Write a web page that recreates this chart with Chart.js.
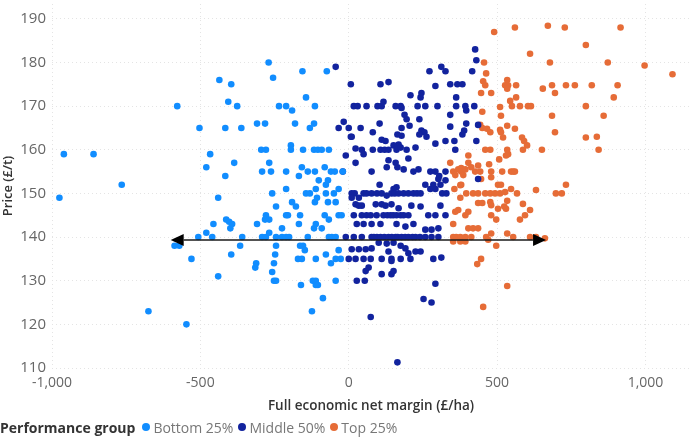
<!DOCTYPE html>
<html>
<head>
<meta charset="utf-8">
<script src="https://cdn.jsdelivr.net/npm/chart.js@4.4.1/dist/chart.umd.min.js"></script>
<style>
  body { margin: 0; background: #fff; font-family: "Open Sans", "Noto Sans", sans-serif; }
  #wrap { position: relative; width: 694px; height: 418px; }
  #legend { position: absolute; left: 0; top: 417px; height: 20px; display: flex; align-items: center;
            font-size: 14px; color: #777; white-space: nowrap; }
  #legend .title { font-weight: 700; color: #333; margin-right: 7px; }
  #legend .item { display: flex; align-items: center; margin-right: 5px; }
  #legend .dot { width: 8px; height: 8px; border-radius: 50%; margin-right: 3px; }
</style>
</head>
<body>
<div id="wrap"><canvas id="chart-canvas" width="694" height="418"></canvas></div>
<div id="legend"></div>
<script>
//------------------------ DATA ----------------------------

const seriesNames = ["Bottom 25%", "Middle 50%", "Top 25%"];
const seriesColors = ["#118DFF", "#12239E", "#E66C37"];
const legendTitle = "Performance group";

const xTicks = [-1000, -500, 0, 500, 1000];
const yTicks = [110, 120, 130, 140, 150, 160, 170, 180, 190];

// Horizontal arrow drawn across the middle of the cloud (from / to / price level)
const arrowFrom = -600;
const arrowTo = 665;
const arrowPrice = 139.3;

// [net margin £/ha, price £/t]
const bottomPoints = [
  [-975,149],[-960,159],[-860,159],[-765,152],[-675,123],[-578,170],[-587,138],[-571,138],[-547,120],[-530,135],
  [-507,140],[-503,165],[-480,156],[-480,141],[-467,159],[-460,140],[-456,143],[-440,149],[-440,131],[-436,176],
  [-416,154],[-416,165],[-413,144],[-406,171],[-403,143.5],[-399,142],[-396,175],[-396,136],[-393,143],[-386,157],
  [-376,170],[-366,138],[-362,165],[-359,140],[-315,133],[-312,134],[-309,166],[-309,143],[-295,160],[-292,155],
  [-292,140],[-282,166],[-282,144],[-270,180],[-279,160],[-279,145],[-279,140],[-268,157],[-268,144],[-268,141],
  [-262,155],[-255,176.5],[-258,150],[-258,132],[-252,134],[-252,130],[-248,136],[-245,147],[-245,140],[-245,138],
  [-245,130],[-235,170],[-225,142],[-225,140],[-211,170],[-211,155],[-211,151],[-211,145],[-211,140],[-205,145],
  [-201,140],[-195,161],[-195,160],[-191,169],[-191,148],[-181,166],[-178,147],[-171,135],[-168,154],[-168,143],
  [-164,145],[-164,138],[-161,129],[-156,178],[-158,156],[-158,135],[-154,160],[-154,138],[-148,137],[-144,172],
  [-144,150],[-138,155],[-138,140],[-131,165],[-131,150],[-124,123],[-121,130],[-117,166],[-117,160],[-117,142],
  [-114,170],[-114,155],[-114,148],[-111,151],[-111,143],[-111,135],[-111,130],[-111,129],[-107,149],[-104,160],
  [-104,129],[-101,153],[-91,160],[-91,142],[-87,126],[-81,156],[-81,145],[-77,152],[-77,150],[-77,136],
  [-74,178],[-70,153],[-70,148],[-67,160],[-67,144],[-67,140],[-60,155],[-60,134],[-57,140],[-50,150],
  [-47,155],[-44,148],[-44,140],[-44,135],[-44,130],[-34,151],[-34,145],[-34,137],[-27,135],[-24,145],
  [-20,155]
];

const middlePoints = [
  [-44,179],[426,183],[430,180.5],[416,178],[312,179],[326,178],[272,178],[7,175],[107,175],[134,175.5],
  [292,174.6],[342,175],[366,175],[383,175],[208,172.5],[242,172],[245,173],[362,172],[17,170],[30,170],
  [60,170],[97,170],[111,170],[117,171],[158,170],[175,170],[178,169.6],[232,170],[258,170],[299,170],
  [342,168],[362,170],[393,170],[396,169],[423,170],[188,168],[195,167],[104,166],[-17,166.4],[-34,165],
  [0,165],[7,163],[10,163],[40,165],[81,164],[178,165],[205,165.5],[238,167],[245,164.4],[255,164],
  [238,163.5],[262,163],[178,163.2],[164,163.5],[342,165.3],[396,166],[389,164.4],[383,163.5],[292,161.4],[436,165.7],
  [111,162.3],[124,162],[168,161.2],[-10,158.7],[23,160.3],[44,160],[50,159],[81,160],[107,160],[121,160],
  [134,160],[151,161],[161,160],[175,160.5],[195,160],[225,160.5],[326,162],[356,162],[359,160],[430,162],
  [23,157],[77,155],[134,157.6],[158,157],[164,156],[185,155.5],[201,158],[128,156],[218,155],[235,155.5],
  [275,155],[292,155],[302,153.3],[326,155],[436,153.3],[-20,155],[305,154],[326,153],[104,152],[161,151.4],
  [151,151],[258,152],[285,152],[309,152],[10,150],[20,150],[50,150],[60,150],[77,150],[95,150],
  [111,150],[128,149.5],[144,150],[155,150],[168,150],[185,150],[201,150],[218,150],[230,150],[242,150],
  [315,150],[329,150],[10,149],[34,149],[275,151],[292,151],[23,147.5],[34,147.2],[44,147.2],[91,147.5],
  [111,147.5],[124,147.2],[144,147.5],[168,146.6],[211,147.2],[242,147],[309,147.2],[17,145],[44,145],[60,145],
  [74,145],[94,145],[117,145],[130,145],[141,145],[150,145],[161,145],[175,145],[185,145],[201,145],
  [268,145],[292,145],[326,145],[27,143],[50,143],[77,143],[107,143],[161,143],[191,142.4],[218,143],
  [258,141.7],[279,141.7],[302,142],[-10,140],[17,140],[44,140],[77,140],[85,140],[95,140],[107,140],
  [120,140],[134,140],[145,140],[158,140],[165,140],[178,140],[190,140],[201,140],[215,140],[225,140],
  [240,140],[258,140],[279,140],[302,140],[101,138.7],[128,138.5],[151,138.7],[175,138],[10,137.2],[34,137.2],
  [57,137.2],[77,137.4],[134,136.7],[144,135],[191,137.4],[201,136.3],[225,136.7],[242,136.7],[0,135],[23,135],
  [50,135],[74,135],[111,135],[144,134.5],[175,135],[208,135],[285,135],[312,135.3],[57,132.2],[67,133],
  [111,131.5],[144,131.5],[151,132.2],[27,130],[54,130],[292,129.3],[252,125.8],[279,125],[74,121.7],[164,111.3]
];

const topPoints = [
  [490,187],[560,188],[671,188.4],[728,188],[916,188],[799,184],[611,182],[678,180],[873,180],[997,179.3],
  [1091,177.3],[456,180],[463,177.5],[453,175.7],[460,174.8],[534,176],[527,174.8],[537,174.8],[534,174],[564,174.8],
  [654,174],[685,174.8],[732,174.8],[762,174.8],[819,174.8],[906,174.8],[446,173],[480,173],[695,173],[893,172],
  [544,171.2],[564,172],[510,169.8],[550,170],[577,170],[604,170],[614,170],[799,170],[450,168.7],[513,167.8],
  [685,167.8],[859,167.8],[450,165],[466,164.8],[477,164],[443,165.7],[510,164.6],[513,164],[534,165.5],[560,164.8],
  [520,162.8],[584,162.8],[591,162],[601,161],[695,164],[799,162.8],[836,163],[842,160],[651,160],[587,160],
  [460,160],[477,160],[534,160],[537,159],[530,158.7],[507,157.8],[473,156.7],[403,158.7],[342,157],[369,155.5],
  [379,155.8],[403,157],[352,155],[379,155],[386,154.2],[393,155.5],[413,156],[436,156.4],[426,155],[443,155],
  [480,155],[480,153.7],[517,155],[547,155],[554,155],[560,155],[359,154.2],[379,152],[376,151.9],[446,153.3],
  [503,152],[513,152],[631,150.8],[732,152],[698,150],[718,150],[396,150],[419,150],[436,150],[460,150],
  [477,150],[493,150],[510,150],[527,150.3],[547,151],[567,150],[356,151],[376,149],[436,147.8],[450,147.8],
  [477,148],[480,147.3],[534,148.3],[587,147.6],[503,146.5],[524,147],[530,146.5],[611,146.2],[594,145],[577,144],
  [359,145.8],[369,146.2],[393,145],[403,145.8],[480,145],[497,144],[352,143],[403,142],[419,142],[436,142],
  [480,140.8],[534,140.8],[352,140],[362,140],[376,140],[393,140],[413,140],[352,139],[376,139],[393,139],
  [463,140],[470,139.4],[497,138],[554,140],[611,140],[631,140],[661,139.7],[446,135],[433,133.8],[534,128.8],
  [453,124]
];

//------------------------ CHART ----------------------------

const groups = [bottomPoints, middlePoints, topPoints];

// Arrow across the chart, drawn through the scales
const arrowPlugin = {
  id: "arrow",
  afterDatasetsDraw(chart) {
    const { ctx, scales } = chart;
    const x1 = scales.x.getPixelForValue(arrowFrom);
    const x2 = scales.x.getPixelForValue(arrowTo);
    const y = scales.y.getPixelForValue(arrowPrice);
    const head = 13, half = 6;
    ctx.save();
    ctx.strokeStyle = "#1a1a1a";
    ctx.fillStyle = "#000";
    ctx.lineWidth = 1.5;
    ctx.beginPath();
    ctx.moveTo(x1 + head, y);
    ctx.lineTo(x2 - head, y);
    ctx.stroke();
    ctx.beginPath();
    ctx.moveTo(x1, y);
    ctx.lineTo(x1 + head, y - half);
    ctx.lineTo(x1 + head, y + half);
    ctx.closePath();
    ctx.fill();
    ctx.beginPath();
    ctx.moveTo(x2, y);
    ctx.lineTo(x2 - head, y - half);
    ctx.lineTo(x2 - head, y + half);
    ctx.closePath();
    ctx.fill();
    ctx.restore();
  },
};

const gridStyle = { color: "#e4e4e4", lineWidth: 1, drawTicks: false };

const ctx = document.getElementById("chart-canvas").getContext("2d");
const myChart = new Chart(ctx, {
  type: "scatter",
  data: {
    datasets: groups.map((pts, i) => ({
      label: seriesNames[i],
      data: pts.map(([x, y]) => ({ x, y })),
      backgroundColor: seriesColors[i],
      borderWidth: 0,
      pointRadius: 3.3,
    })),
  },
  options: {
    responsive: false,
    animation: false,
    layout: { padding: 0 },
    plugins: {
      legend: { display: false },
      tooltip: { enabled: false },
    },
    scales: {
      x: {
        type: "linear",
        min: -1000,
        max: 1150,
        afterBuildTicks: (s) => { s.ticks = xTicks.map((v) => ({ value: v })); },
        afterFit: (s) => { s.height = 50; s.paddingLeft = 0; s.paddingRight = 0; },
        grid: gridStyle,
        border: { display: false, dash: [1, 3] },
        ticks: {
          color: "#666",
          padding: 7,
          maxRotation: 0,
          font: { family: "'Open Sans'", size: 14 },
          callback: (v) => Number(v).toLocaleString("en-US"),
        },
        title: {
          display: true,
          text: "Full economic net margin (£/ha)",
          color: "#333",
          padding: { top: 0, bottom: 4 },
          font: { family: "'Open Sans'", size: 13.5, weight: "600" },
        },
      },
      y: {
        min: 110,
        max: 193.4,
        afterBuildTicks: (s) => { s.ticks = yTicks.map((v) => ({ value: v })); },
        afterFit: (s) => { s.width = 52; s.paddingTop = 0; s.paddingBottom = 0; },
        grid: gridStyle,
        border: { display: false, dash: [1, 3] },
        ticks: {
          color: "#666",
          padding: 6,
          font: { family: "'Open Sans'", size: 15 },
        },
        title: {
          display: true,
          text: "Price (£/t)",
          color: "#333",
          padding: { top: 0, bottom: 0 },
          font: { family: "'Open Sans'", size: 13, weight: "600" },
        },
      },
    },
  },
  plugins: [arrowPlugin],
});

//------------------------ LEGEND ----------------------------

const legend = document.getElementById("legend");
legend.innerHTML = '<span class="title">' + legendTitle + "</span>" +
  seriesNames.map((name, i) =>
    '<span class="item"><span class="dot" style="background:' + seriesColors[i] + '"></span>' + name + "</span>"
  ).join("");
</script>
</body>
</html>
